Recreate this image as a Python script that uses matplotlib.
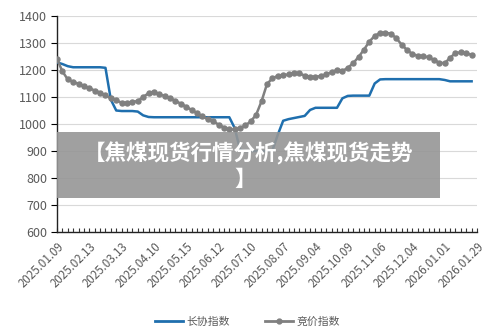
import numpy as np
import matplotlib
matplotlib.use("Agg")
from matplotlib import pyplot as plt
from matplotlib.patches import Rectangle
from matplotlib.lines import Line2D

plt.rcParams['font.family'] = ['Noto Sans CJK SC', 'DejaVu Sans']

# tick labels shown on the category axis (every 6th point)
date_labels = ["2025.01.09", "2025.02.13", "2025.03.13", "2025.04.10", "2025.05.15",
               "2025.06.12", "2025.07.10", "2025.08.07", "2025.09.04", "2025.10.09",
               "2025.11.06", "2025.12.04", "2026.01.01", "2026.01.29"]

# 长协指数 (long-term contract index)
contract_index = [1228, 1222, 1214, 1210, 1210, 1210, 1210, 1210, 1210, 1208,
                  1090, 1050, 1048, 1048, 1048, 1046, 1032, 1026, 1025, 1025,
                  1025, 1025, 1025, 1025, 1025, 1025, 1025, 1025, 1025, 1025,
                  1025, 1025, 1025, 985, 905, 900, 900, 900, 900, 900,
                  902, 960, 1012, 1018, 1022, 1026, 1030, 1052, 1060, 1060,
                  1060, 1060, 1060, 1095, 1104, 1105, 1105, 1105, 1105, 1150,
                  1165, 1166, 1166, 1166, 1166, 1166, 1166, 1166, 1166, 1166,
                  1166, 1166, 1163, 1158, 1158, 1158, 1158, 1158]

# 竞价指数 (auction index)
auction_index = [1240, 1195, 1165, 1156, 1149, 1140, 1133, 1124, 1116, 1106,
                 1095, 1087, 1079, 1078, 1082, 1085, 1100, 1114, 1120, 1110,
                 1104, 1096, 1086, 1075, 1064, 1052, 1040, 1028, 1018, 1010,
                 998, 987, 980, 980, 985, 995, 1010, 1035, 1085, 1148,
                 1169, 1178, 1180, 1184, 1190, 1188, 1179, 1175, 1174, 1178,
                 1184, 1192, 1200, 1196, 1208, 1225, 1248, 1275, 1305, 1326,
                 1337, 1338, 1334, 1318, 1294, 1274, 1259, 1253, 1251, 1247,
                 1237, 1227, 1225, 1245, 1263, 1265, 1262, 1256]

blue = "#1f6fae"
grey = "#808080"
text_c = "#5a5a5a"

fig = plt.figure(figsize=(5, 3.32), dpi=100)
ax = fig.add_axes([0.114, 0.301, 0.84, 0.651])

x = np.arange(len(contract_index))
ax.plot(x, contract_index, color=blue, lw=1.8, zorder=3)
ax.plot(x, auction_index, color=grey, lw=1.8, marker="o", ms=3.6, zorder=3)

ax.set_ylim(600, 1400)
ax.set_yticks(range(600, 1401, 100))
ax.set_xlim(0, 78)
ax.set_xticks(range(0, 79, 6))
ax.set_xticklabels(date_labels, rotation=45, ha="right", va="top",
                   rotation_mode="anchor", fontsize=8.3, color=text_c)
ax.set_xticks(range(0, 79), minor=True)
ax.tick_params(axis="x", which="both", direction="in", length=3, width=0.8,
               pad=6, colors="#333333", labelcolor=text_c)
ax.tick_params(axis="y", direction="out", length=4, width=0.8,
               labelsize=9, labelcolor=text_c, pad=3)
ax.grid(axis="y", color="#d9d9d9", lw=0.8, zorder=0)
ax.spines[["top", "right"]].set_visible(False)
for s in ["left", "bottom"]:
    ax.spines[s].set_color("#222222")
    ax.spines[s].set_linewidth(1.0)

# translucent caption banner over the plot
fig.patches.append(Rectangle((57 / 500, 1 - 198 / 332), 383 / 500, 66 / 332,
                             transform=fig.transFigure, facecolor="#969696",
                             alpha=0.9, zorder=5))
fig.text(249 / 500, 1 - 153 / 332, "【焦煤现货行情分析,焦煤现货走势",
         color="white", fontsize=15.5, fontweight="bold", ha="center",
         va="center", zorder=6)
fig.text(245 / 500, 1 - 179 / 332, "】", color="white", fontsize=15.5,
         fontweight="bold", ha="center", va="center", zorder=6)

handles = [Line2D([], [], color=blue, lw=2),
           Line2D([], [], color=grey, lw=2, marker="o", ms=3.5)]
fig.legend(handles, ["长协指数", "竞价指数"], loc="center",
           bbox_to_anchor=(0.495, 1 - 322 / 332), ncol=2, frameon=False,
           fontsize=7.8, labelcolor=text_c, handlelength=2.6,
           columnspacing=3.2, handletextpad=0.3)

fig.savefig("out.png", dpi=100)
